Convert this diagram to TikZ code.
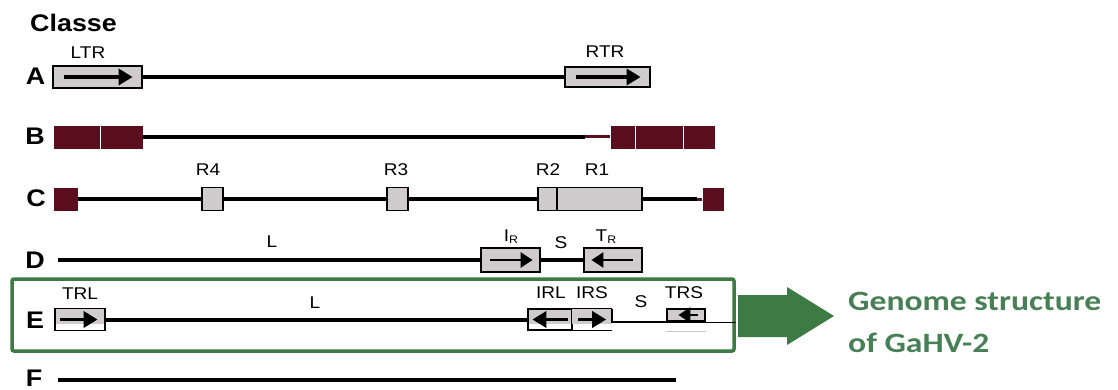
\documentclass[tikz,border=0pt]{standalone}
\usepackage{fontspec}
\setmainfont{Liberation Sans}[FakeStretch=1.12]
\newfontfamily\capfont{Carlito}[FakeStretch=1.2]
\usetikzlibrary{arrows.meta}

\definecolor{boxgrey}{RGB}{208,203,204}
\definecolor{darkred}{RGB}{90,14,30}
\definecolor{framegreen}{RGB}{62,122,68}
\definecolor{textgreen}{RGB}{72,128,86}

\newcommand{\subr}[1]{\raisebox{-2pt}{\fontsize{11}{11}\selectfont #1}}

\tikzset{
  dna/.style={line width=4pt},
  rpt/.style={draw, fill=boxgrey, line width=1.2pt, inner sep=0pt, minimum height=21},
  ebox/.style={draw, line width=1.2pt, inner sep=0pt, minimum height=21,
    path picture={\fill[boxgrey] (path picture bounding box.north west) rectangle ([yshift=-4pt]path picture bounding box.east);}},
  term/.style={fill=darkred, draw=white, line width=0.5pt, inner sep=0pt, minimum height=24},
  fwd/.style={line width=3.5pt, -{Triangle[length=14pt,width=16pt]}},
  fwdthin/.style={line width=2.5pt, -{Triangle[length=12pt,width=15pt]}},
  lab/.style={font=\fontsize{17}{17}\selectfont, inner sep=0pt},
  cls/.style={font=\fontsize{24}{24}\selectfont\bfseries, inner sep=0pt, anchor=base},
  frame/.style={draw=framegreen, line width=3.5pt, rounded corners=2pt, inner sep=0pt},
  gtext/.style={font=\fontsize{28}{28}\selectfont\capfont\bfseries, text=textgreen, inner sep=0pt}
}

\begin{document}
\begin{tikzpicture}[x=1pt,y=-1pt]
\useasboundingbox (0,0) rectangle (1118,390);

\node[font=\fontsize{24}{24}\selectfont\bfseries, inner sep=0pt, anchor=base west] (classe) at (30,32) {Classe};

% A
\node[cls] (la) at (35.5,85) {A};
\node[rpt, minimum width=89, minimum height=22] (LTR) at (97.5,77) {};
\node[rpt, minimum width=85, minimum height=20] (RTR) at (607.5,77) {};
\draw[dna] (LTR) -- (RTR);
\draw[fwd] ([xshift=12]LTR.west) -- ([xshift=-10]LTR.east);
\draw[fwd] ([xshift=12]RTR.west) -- ([xshift=-10]RTR.east);
\node[lab] (tLTR) at (88,53) {LTR};
\node[lab] (tRTR) at (605,52) {RTR};

% B
\node[cls] (lb) at (35,145) {B};
\node[term, minimum width=47] (B1) at (76.5,137) {};
\node[term, minimum width=43] (B2) at (121.5,137) {};
\node[term, minimum width=25] (B3) at (622.5,137) {};
\node[term, minimum width=48] (B4) at (659,137) {};
\node[term, minimum width=32] (B5) at (699,137) {};
\coordinate (Bred) at (585,137);
\draw[dna] (B2) -- (Bred);
\draw[darkred, line width=3pt] (Bred) -- (B3);

% C
\node[cls] (lc) at (36,207) {C};
\node[term, minimum width=25] (C1) at (65.5,199) {};
\node[rpt, minimum width=21, minimum height=23] (R4) at (212.5,199) {};
\node[rpt, minimum width=21, minimum height=23] (R3) at (397.5,199) {};
\node[rpt, minimum width=19, minimum height=23] (R2) at (547.5,199) {};
\node[rpt, minimum width=85, minimum height=23] (R1) at (599.5,199) {};
\node[term, minimum width=22] (C2) at (713,199) {};
\coordinate (Cred) at (697,199);
\foreach \from/\to in {C1/R4, R4/R3, R3/R2, R1/Cred}
  \draw[dna] (\from) -- (\to);
\draw[darkred, line width=3pt] (Cred) -- (C2);
\node[lab] (tR4) at (208,170) {R4};
\node[lab] (tR3) at (396,170) {R3};
\node[lab] (tR2) at (548,170) {R2};
\node[lab] (tR1) at (597,170) {R1};

% D
\node[cls] (ld) at (35,268) {D};
\coordinate (D0) at (58,260);
\node[rpt, minimum width=59, minimum height=24] (IR) at (510.5,260) {};
\node[rpt, minimum width=58, minimum height=24] (TR) at (613,260) {};
\foreach \from/\to in {D0/IR, IR/TR}
  \draw[dna] (\from) -- (\to);
\draw[fwdthin] ([xshift=10]IR.west) -- ([xshift=-8]IR.east);
\draw[fwdthin] ([xshift=-10]TR.east) -- ([xshift=8]TR.west);
\node[lab] (tLD) at (272,242) {L};
\node[lab] (tIR) at (511,237) {I\subr{R}};
\node[lab] (tSD) at (561,243) {S};
\node[lab] (tTR) at (606,237) {T\subr{R}};

% E
\node[frame, minimum width=722, minimum height=72] (frameE) at (373,315) {};
\node[cls] (le) at (35,328) {E};
\node[ebox, minimum width=50, minimum height=22] (TRL) at (80,319.5) {};
\node[ebox, minimum width=44] (IRL) at (550,319.5) {};
\node[inner sep=0pt, minimum width=40, minimum height=21,
  path picture={\fill[boxgrey] (path picture bounding box.north west) rectangle ([yshift=-4pt]path picture bounding box.east);}] (IRS) at (592,319.5) {};
\node[draw, fill=boxgrey, line width=1.2pt, inner sep=0pt, minimum width=38, minimum height=12] (TRS) at (686,315) {};
\draw[dna] (TRL) -- (IRL);
\draw[line width=1.2pt] (IRS.north east) -- (IRS.north west) -- (IRS.south west) -- (IRS.south east);
\draw[line width=2.2pt] (IRS.north east) |- (TRS.south west);
\coordinate (Ethin) at (612,322.5);
\draw[line width=1.2pt] (Ethin) -- (Ethin -| frameE.east);
\draw[gray!45, line width=1pt] ([yshift=-10pt]TRS.south west) -- ([yshift=-10pt]TRS.south east);
\draw[fwd] ([xshift=6]TRL.west) -- ([xshift=-8]TRL.east);
\draw[fwd] ([xshift=-5]IRL.east) -- ([xshift=5]IRL.west);
\draw[fwd] ([xshift=6]IRS.west) -- ([xshift=-6]IRS.east);
\draw[fwdthin] ([xshift=-8]TRS.east) -- ([xshift=12]TRS.west);
\node[lab] (tTRL) at (80,294) {TRL};
\node[lab] (tLE) at (315,303) {L};
\node[lab] (tIRL) at (551,293) {IRL};
\node[lab] (tIRS) at (592,293) {IRS};
\node[lab] (tSE) at (641,302) {S};
\node[lab] (tTRS) at (684,293) {TRS};

% F
\node[cls] (lf) at (34,386) {F};
\coordinate (F0) at (58,380);
\coordinate (F1) at (676,380);
\draw[dna] (F0) -- (F1);

% arrow to the caption
\coordinate (arrowS) at (738,316);
\coordinate (arrowT) at (834,316);
\fill[framegreen] (arrowS) ++(0,-21) -- ++(49,0) -- ++(0,-8) -- (arrowT) -- ++(-47,29) -- ++(0,-8) -- ++(-49,0) -- cycle;
\node[gtext, anchor=base west] (cap1) at (848,310) {Genome structure};
\node[gtext, anchor=base west] (cap2) at (848,352) {of GaHV-2};

\end{tikzpicture}
\end{document}
